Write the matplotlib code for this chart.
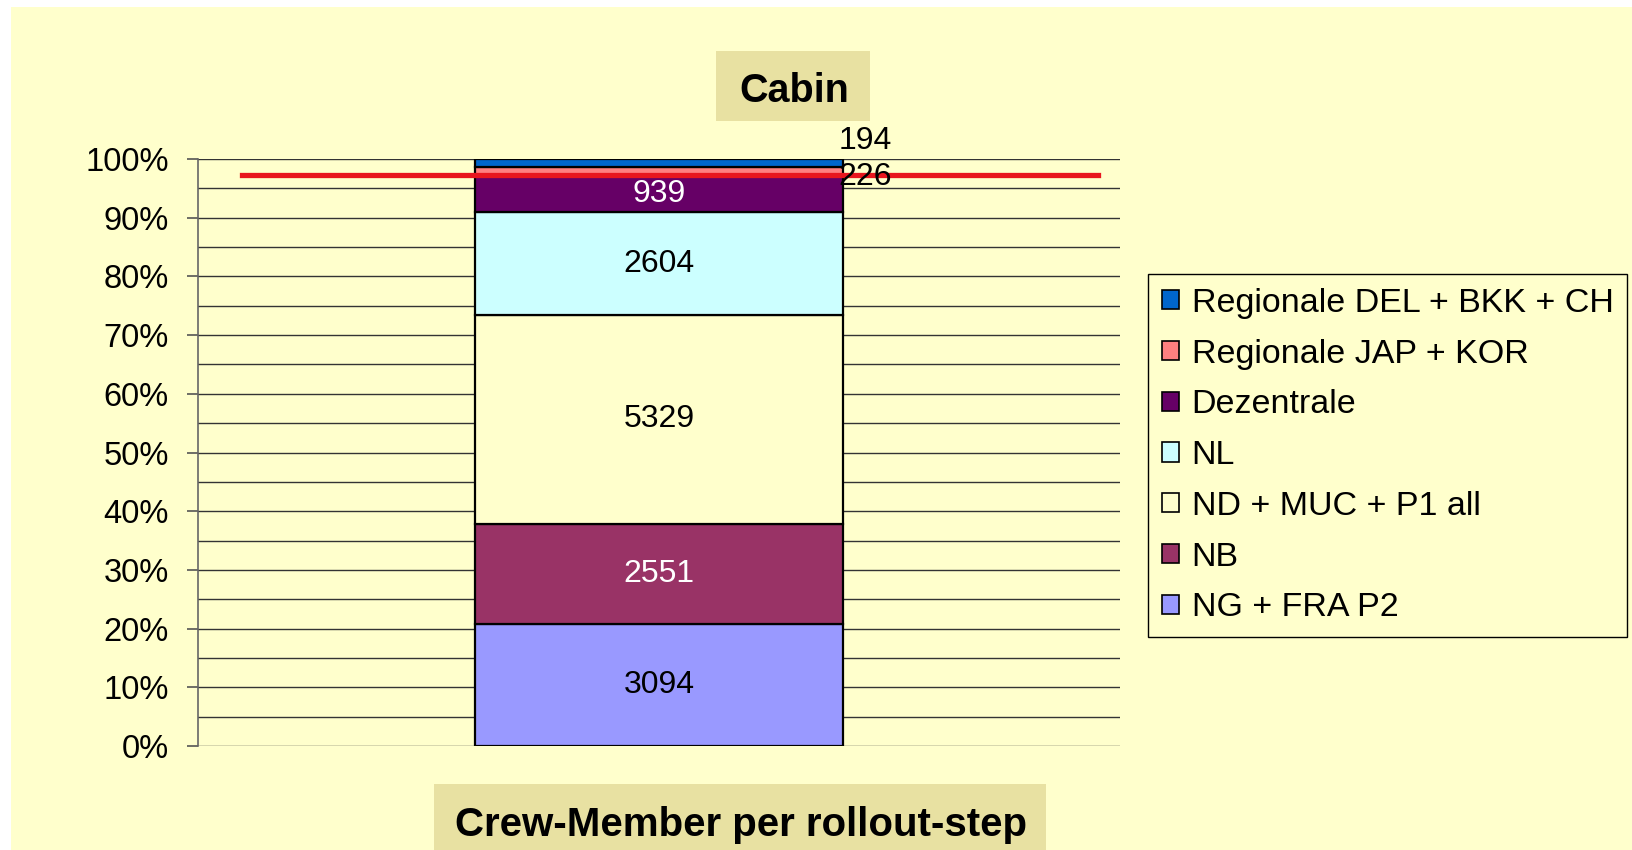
import matplotlib
matplotlib.use("Agg")
import matplotlib.pyplot as plt
from matplotlib.patches import Rectangle, Patch
from matplotlib.ticker import PercentFormatter
import numpy as np

plt.rcParams['font.family'] = ['Liberation Sans', 'DejaVu Sans']

# ---- data ----
category = ["Cabin"]
series = ["NG + FRA P2", "NB", "ND + MUC + P1 all", "NL", "Dezentrale",
          "Regionale JAP + KOR", "Regionale DEL + BKK + CH"]
values = [3094, 2551, 5329, 2604, 939, 226, 194]
colors = ["#9999FF", "#993366", "#FFFFCC", "#CCFFFF", "#660066", "#FF8080", "#0066CC"]
label_colors = ["black", "white", "black", "black", "white", "black", "black"]
yticks = [0, 10, 20, 30, 40, 50, 60, 70, 80, 90, 100]
threshold = 0.973
title = "Cabin"
xlabel = "Crew-Member per rollout-step"

W, H = 1632, 850
fig = plt.figure(figsize=(W / 100, H / 100), dpi=100)
fig.patch.set_facecolor("white")

# yellow background panel
fig.add_artist(Rectangle((11 / W, 0), 1 - 11 / W, 1 - 7 / H, transform=fig.transFigure,
                         facecolor="#FFFFCC", edgecolor="none", zorder=0))
# title boxes
fig.add_artist(Rectangle((716 / W, 1 - 121 / H), 154 / W, 70 / H, transform=fig.transFigure,
                         facecolor="#E8E1A2", edgecolor="none", zorder=1))
fig.add_artist(Rectangle((434 / W, 0), 612 / W, 66 / H, transform=fig.transFigure,
                         facecolor="#E8E1A2", edgecolor="none", zorder=1))
fig.text(794 / W, 1 - 91 / H, title, ha="center", va="center", fontsize=28.5,
         fontweight="bold", zorder=2)
fig.text(741 / W, 1 - 825 / H, xlabel, ha="center", va="center", fontsize=29,
         fontweight="bold", zorder=2)

ax = fig.add_axes([198 / W, 1 - 746 / H, (1120 - 198) / W, (746 - 159) / H])
ax.set_facecolor("none")
ax.set_zorder(3)

vals = np.array(values, dtype=float)
frac = vals / vals.sum()
bottoms = np.concatenate([[0], np.cumsum(frac)[:-1]])
bw = 0.4
for i, (f, b) in enumerate(zip(frac, bottoms)):
    ax.bar(0, f, bottom=b, width=bw, color=colors[i], edgecolor="black",
           linewidth=1.6, label=series[i], zorder=3)
    if values[i] > 500:
        ax.text(0, b + f / 2, str(values[i]), ha="center", va="center",
                fontsize=23, color=label_colors[i], zorder=5)

# small segment labels to the right
ax.annotate(str(values[5]), xy=(bw / 2, bottoms[5] + frac[5] / 2), xytext=(16, -4.5),
            textcoords="offset points", ha="center", va="center", fontsize=23, zorder=5)
ax.annotate(str(values[6]), xy=(bw / 2, bottoms[6] + frac[6] / 2), xytext=(16, 16),
            textcoords="offset points", ha="center", va="center", fontsize=23, zorder=5,
            annotation_clip=False)

ax.axhline(threshold, xmin=0.048, xmax=0.976, color="#E8161E", linewidth=3.8, zorder=4)

ax.set_xlim(-0.5, 0.5)
ax.set_ylim(0, 1)
ax.set_yticks(np.array(yticks) / 100)
ax.yaxis.set_major_formatter(PercentFormatter(1.0, decimals=0))
ax.set_yticks(np.arange(0.05, 1.0, 0.1), minor=True)
ax.tick_params(axis="y", which="major", length=8, width=1.2, color="#555555",
               labelsize=23.5, pad=13)
ax.tick_params(axis="y", which="minor", length=0)
ax.set_xticks([])
ax.grid(True, axis="y", which="both", color="#333333", linewidth=1.0, zorder=0)
ax.set_axisbelow(True)
for s in ["top", "right", "bottom"]:
    ax.spines[s].set_visible(False)
ax.spines["left"].set_color("#666666")
ax.spines["left"].set_linewidth(1.2)

handles = [Patch(facecolor=colors[i], edgecolor="black", linewidth=1.2, label=series[i])
           for i in range(len(series))][::-1]
leg = fig.legend(handles=handles, loc="upper left",
                 bbox_to_anchor=(1148 / W, 1 - 274 / H), bbox_transform=fig.transFigure,
                 fontsize=24.5, frameon=True, fancybox=False, edgecolor="black",
                 facecolor="#FFFFCC", framealpha=1, handlelength=0.49, handleheight=0.49,
                 handletextpad=0.38, labelspacing=0.58, borderpad=0.41, borderaxespad=0)
leg.get_frame().set_linewidth(1.0)

fig.savefig("out.png", dpi=100, facecolor=fig.get_facecolor())
